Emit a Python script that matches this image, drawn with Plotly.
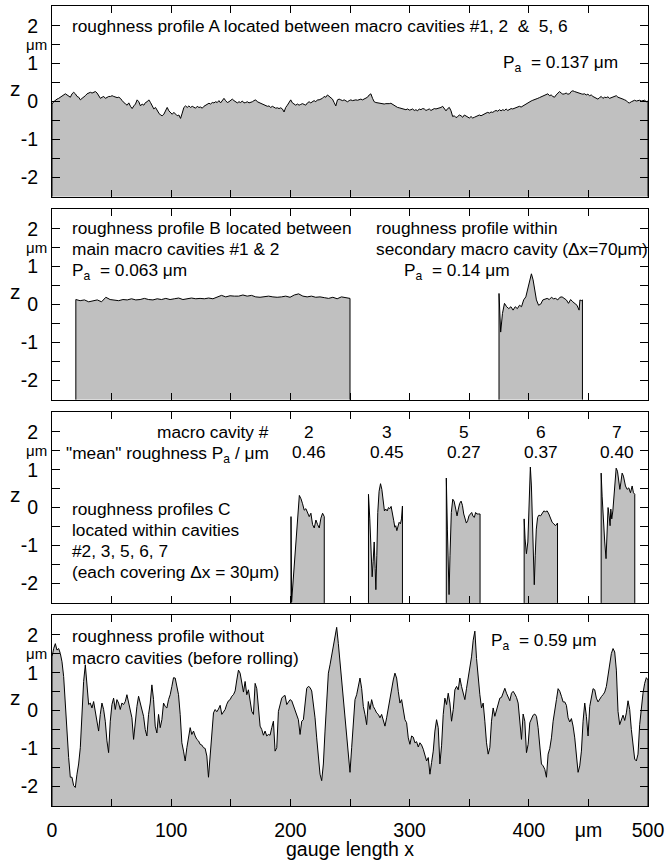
import plotly.graph_objects as go

# ---------------- data ----------------
# profile A (panel 1), uniformly sampled over 0..500 um, heights in um
PROFILE_A_Z = [
    -0.07, -0.01, 0.04, 0.06, 0.08, 0.11, 0.13, 0.15, 0.20, 0.17, 0.13, 0.11, 0.20, 0.24, 0.20, 0.13, 0.11, 0.04, 0.08, 0.11,
    0.15, 0.20, 0.22, 0.24, 0.22, 0.24, 0.26, 0.22, 0.13, 0.08, 0.11, 0.13, 0.08, 0.11, 0.13, 0.13, 0.15, 0.13, 0.11, 0.10,
    0.11, 0.08, 0.02, -0.03, -0.07, -0.10, -0.04, -0.13, -0.19, -0.12, -0.07, 0.04, -0.01, -0.12, -0.07, -0.10, -0.03, -0.01, 0.04, -0.03,
    -0.13, -0.20, -0.16, -0.25, -0.31, -0.36, -0.38, -0.34, -0.25, -0.16, -0.25, -0.31, -0.34, -0.29, -0.34, -0.38, -0.36, -0.45, -0.31, -0.16,
    -0.12, -0.16, -0.12, -0.16, -0.13, -0.15, -0.18, -0.13, -0.16, -0.15, -0.18, -0.13, -0.10, -0.07, -0.05, -0.07, -0.03, -0.04, -0.01, -0.03,
    0.02, -0.04, 0.02, 0.08, 0.02, -0.03, -0.01, 0.04, 0.06, 0.02, -0.01, -0.04, -0.01, -0.03, 0.01, -0.04, -0.03, -0.01, -0.04, -0.03,
    -0.01, 0.02, 0.04, -0.01, -0.03, -0.04, -0.07, -0.08, -0.10, -0.13, -0.12, -0.16, -0.13, -0.16, -0.18, -0.17, -0.19, -0.17, -0.20, -0.28,
    -0.16, -0.10, -0.03, 0.04, -0.04, -0.07, -0.10, -0.07, -0.10, -0.08, -0.06, -0.08, -0.10, -0.04, -0.01, -0.04, -0.01, 0.02, -0.01, 0.04,
    0.04, 0.06, 0.08, 0.13, 0.11, 0.17, 0.13, 0.11, 0.06, -0.03, -0.12, 0.04, 0.06, 0.04, 0.02, 0.04, 0.02, -0.01, 0.02, 0.04,
    0.02,
    0.04, 0.04, 0.03, 0.04, 0.06, 0.04, 0.06, 0.08, 0.11, 0.17, 0.20, 0.08, -0.01, -0.03, -0.04, -0.03, -0.04, -0.06, -0.07, -0.06,
    -0.07, -0.06, -0.05, -0.08, -0.12, -0.13, -0.16, -0.17, -0.18, -0.19, -0.20, -0.22, -0.20, -0.23, -0.22, -0.20, -0.24, -0.22, -0.25, -0.20,
    -0.22, -0.19, -0.20, -0.24, -0.22, -0.20, -0.24, -0.22, -0.19, -0.20, -0.19, -0.17, -0.16, -0.13, -0.20, -0.25, -0.19, -0.16, -0.25, -0.40,
    -0.38, -0.43, -0.40, -0.36, -0.38, -0.42, -0.36, -0.38, -0.42, -0.44, -0.40, -0.44, -0.42, -0.40, -0.38, -0.36, -0.38, -0.35, -0.34, -0.31,
    -0.29, -0.31, -0.28, -0.29, -0.26, -0.24, -0.26, -0.22, -0.25, -0.22, -0.24, -0.20, -0.24, -0.22, -0.19, -0.20, -0.18, -0.17, -0.16, -0.13,
    -0.15, -0.12, -0.10, -0.07, -0.04, -0.01, 0.01, 0.03, 0.04, 0.06, 0.08, 0.10, 0.12, 0.13, 0.15, 0.17, 0.20, 0.15, 0.17, 0.13,
    0.11, 0.17, 0.22, 0.26, 0.22, 0.19, 0.20, 0.22, 0.19, 0.20, 0.26, 0.28, 0.26, 0.24, 0.22, 0.22, 0.20, 0.19, 0.20, 0.17,
    0.19, 0.15, 0.17, 0.13, 0.11, 0.08, 0.06, 0.10, 0.13, 0.08, 0.11, 0.10, 0.12, 0.08, 0.10, 0.11, 0.13, 0.15, 0.11, 0.10,
    0.08, 0.06, 0.04, 0.02, -0.03, -0.04, -0.01, 0.02, 0.03, 0.01, 0.02, 0.03, 0.01, 0.02, 0.03, -0.01, 0.01,
]

# profile B (panel 2), uniformly sampled between its two ends
PROFILE_B_START = 20.0
PROFILE_B_END = 250.0
PROFILE_B_Z = [
    0.13, 0.10, 0.12, 0.07, 0.09, 0.12, 0.07, 0.19, 0.13, 0.12, 0.10, 0.13, 0.12, 0.15, 0.12, 0.13, 0.16, 0.13, 0.12, 0.15,
    0.13, 0.16, 0.13, 0.15, 0.17, 0.13, 0.15, 0.17, 0.15, 0.16, 0.15, 0.17, 0.15, 0.19, 0.24, 0.20, 0.23, 0.22, 0.22, 0.25,
    0.22, 0.24, 0.20, 0.19, 0.20, 0.22, 0.20, 0.19, 0.20, 0.22, 0.19, 0.25, 0.28, 0.22, 0.20, 0.22, 0.19, 0.20, 0.18, 0.16,
    0.19, 0.15, 0.20, 0.18, 0.16,
]

# profile within secondary macro cavity (panel 2)
SECONDARY_X = [375.0, 376.4, 377.9, 379.6, 381.4, 383.2, 385.0, 386.8, 388.6, 390.4, 392.2, 393.9, 395.7, 397.5, 399.3,
               401.1, 402.2, 403.6, 405.0, 406.4, 408.2, 410.0, 411.8, 413.6, 415.4, 417.2, 419.0, 420.7, 422.5, 424.3,
               426.1, 427.9, 429.7, 431.5, 433.3, 435.1, 436.9, 438.7, 440.4, 442.2, 442.9, 444.0, 445.0]
SECONDARY_Z = [0.29, -0.73, -0.24, 0.03, -0.06, -0.11, -0.06, -0.15, -0.06, -0.11, -0.02, -0.06, 0.12, 0.20, 0.43,
               0.74, 0.81, 0.65, 0.38, 0.12, -0.02, 0.01, 0.12, 0.13, 0.16, 0.13, 0.19, 0.15, 0.16, 0.12,
               0.19, 0.20, 0.16, 0.12, 0.03, 0.13, 0.07, 0.03, -0.02, -0.15, 0.12, 0.10, 0.12]

# profiles C within macro cavities #2, 3, 5, 6, 7 (panel 3)
CAVITY2_X = [200.5, 201.0, 207.5, 208.9, 210.2, 211.6, 213.0, 214.4, 215.8, 217.2, 218.6, 220.0, 221.4, 222.8, 224.2,
             225.6, 227.0, 228.4]
CAVITY2_Z = [-0.24, -2.50, 0.32, 0.23, 0.10, -0.07, -0.03, -0.15, -0.24, -0.15, -0.45, -0.54, -0.33, -0.45, -0.54,
             -0.28, -0.15, -0.24]
CAVITY3_X = [265.5, 266.6, 267.8, 268.6, 269.4, 270.3, 271.1, 271.7, 272.5, 273.3, 274.4, 275.6, 276.7, 277.8, 278.9,
             280.0, 281.2, 282.3, 283.4, 284.5, 285.6, 286.7, 287.6, 288.4, 289.3, 290.1, 291.2, 292.3, 293.2, 294.0]
CAVITY3_Z = [0.35, -0.30, -1.09, -1.83, -1.43, -0.91, -1.61, -2.17, -1.26, -0.13, 0.43, 0.63, 0.48, 0.13, -0.09,
             -0.04, -0.09, 0.00, -0.03, 0.03, -0.13, -0.35, -0.52, -0.48, -0.61, -0.48, -0.39, -0.43, -0.30, 0.04]
CAVITY5_X = [330.8, 331.7, 332.5, 333.1, 333.9, 335.0, 336.2, 337.3, 338.7, 339.8, 340.9, 342.0, 343.2, 344.3, 345.4,
             346.5, 347.6, 348.7, 349.8, 351.0, 352.1, 353.2, 354.3, 355.4, 356.5, 357.7, 359.1]
CAVITY5_Z = [0.78, -0.57, -1.61, -2.30, -1.26, -0.13, 0.22, 0.17, -0.04, -0.22, -0.04, 0.11, 0.17, 0.06, -0.17,
             -0.30, -0.41, -0.35, -0.22, -0.17, -0.13, -0.23, -0.26, -0.13, -0.17, -0.17, -0.17]
CAVITY6_X = [396.1, 396.9, 398.0, 399.2, 400.0, 400.8, 401.3, 402.2, 403.0, 403.8, 404.6, 405.4, 406.3, 407.4, 408.5,
             409.9, 411.3, 412.6, 414.0, 415.4, 416.8, 418.2, 419.6, 421.0, 422.4, 424.1]
CAVITY6_Z = [-0.30, -0.83, -1.22, -0.91, -0.13, 0.74, 1.07, 0.57, -0.39, -1.26, -2.04, -1.26, -0.57, -0.26, -0.20,
             -0.22, -0.13, -0.09, -0.11, -0.09, -0.17, -0.30, -0.39, -0.43, -0.48, -0.41]
CAVITY7_X = [460.7, 461.5, 462.6, 463.7, 464.8, 465.7, 466.5, 467.4, 468.2, 468.8, 469.6, 470.5, 471.3, 472.2, 473.3,
             474.4, 475.5, 476.4, 477.2, 478.3, 479.4, 480.3, 481.1, 482.5, 483.9, 485.3, 486.7, 487.8, 488.9]
CAVITY7_Z = [0.91, 0.30, -0.48, -0.91, -1.35, -0.65, 0.00, -0.22, -0.48, -0.04, -0.30, -0.09, 0.30, 0.74, 1.04,
             0.96, 0.74, 0.48, 0.65, 0.91, 0.83, 0.65, 0.57, 0.48, 0.52, 0.39, 0.57, 0.39, 0.35]

CAVITY_NUMBERS = ["2", "3", "5", "6", "7"]
CAVITY_PA = ["0.46", "0.45", "0.27", "0.37", "0.40"]
CAVITY_LABEL_X = [216.0, 281.0, 345.5, 410.5, 474.0]

# profile without macro cavities, before rolling (panel 4), uniformly sampled over 0..500 um
PROFILE_D_Z = [
    1.42, 1.64, 1.77, 1.60, 1.64, 1.51, 1.29, 0.90, 0.16, -0.63,
    -1.24, -1.76, -1.76, -1.98, -2.03, -1.68, -1.41, -0.98, -0.10, 0.77,
    1.21, 0.77, 0.16, 0.20, 0.07, 0.24, -0.02, -0.28, -0.54, -0.10,
    0.20, 0.03, -0.28, -0.80, -1.11, -0.28, 0.16, 0.33, 0.03, 0.29,
    0.20, 0.03, 0.20, 0.16, 0.24, 0.42, 0.20, 0.03, -0.19, -0.76,
    -0.28, 0.11, 0.38, 0.20, -0.02, -0.15, -0.50, -0.67, -0.10, 0.20,
    0.68, 0.29, -0.41, -0.59, -0.10, -0.45, -0.24, 0.20, 0.11, 0.07,
    0.29, 0.42, 0.64, 0.87, 0.86, 0.68, 0.42, -0.10, -0.85, -1.07,
    -1.33, -0.98, -0.72, -0.45, -0.63, -0.54, -0.67, -0.76, -0.80, -0.89,
    -0.91, -0.98, -1.00, -1.20, -1.76, -1.15, -0.54, -0.06, 0.03, -0.03,
    0.04, 0.14, -0.10, -0.02, 0.03, 0.17, 0.26, 0.29, 0.38, 0.42,
    0.52, 0.81, 1.07, 0.99, 0.77, 0.49, 0.77, 0.42, 0.55, 0.23,
    -0.02, -0.10, 0.72, 0.58, 0.07, -0.41, -0.50, -0.65, -0.54, -0.67,
    -0.63, -0.65, -0.45, -0.28, -1.07, -0.98,
    -0.02, 0.20, 0.33, 0.38, 0.40, 0.16, 0.23, 0.29, 0.26, 0.14,
    0.03, -0.10, -0.24, -0.63, -0.28, -0.24, 0.24, 0.59, 0.64, 0.61,
    0.52, 0.20, -0.19, -0.72, -1.33, -1.68, -1.85, -1.41, -0.54, 0.42,
    0.99, 1.21, 1.47, 1.69, 2.03, 2.20, 1.77, 1.29, 0.81, 0.38,
    -0.10, -0.54, -0.98, -1.63, -0.98, -0.19, 0.29, 0.42, 0.64, 0.86,
    0.59, 0.11, -0.10, -0.37, 0.24, 0.03, 0.29, 0.11, 0.03, -0.06,
    -0.10, -0.19, -0.10, -0.24, -0.41, -0.19, 0.07, 0.29, 0.55, 0.81,
    0.99, 0.86, 0.51, 0.20, 0.29, -0.02, -0.24, -0.32, -0.72, -0.89,
    -0.67, -0.70, -0.85, -0.82, -0.96, -0.85, -0.91, -1.02, -1.20, -1.33,
    -1.24, -1.68, -1.37, -1.07, -0.54, -0.24, -0.45, -1.41, -0.93, -0.10,
    0.33, 0.16, 0.46, 0.20, -0.28, 0.03, 0.55, 0.64, 0.55, 0.86,
    0.64, 0.44, 0.29, 0.59, 0.86, 1.12, 1.42, 1.86, 2.10, 1.38,
    0.77, 0.42, 0.07, 0.20, -0.28, -0.85, -1.15, -0.98, -0.28, 0.07,
    -0.15, 0.03, 0.20, 0.33, 0.35, 0.46, 0.59, 0.46, 0.35, 0.26,
    0.46, 0.51, 0.44, 0.35, 0.20, -0.37, -0.76, -0.09, -0.28, -1.11,
    -0.89, -0.32, -0.21, -0.12, -0.09, -0.15, -0.45, -0.98, -1.41, -1.46,
    -1.55, -1.76, -1.15, -1.00, -0.72, -0.28, 0.07, 0.29, 0.58, 0.51,
    0.38, 0.23, 0.23, 0.14, -0.19, -0.30, -0.21, -0.41, -0.72, -1.24,
    -1.63, -1.46, -1.07, -0.28, 0.20, -0.15, -0.67, 0.11, 0.38, 0.58,
    0.55, 0.33, 0.23, 0.31, 0.37, 0.42, 0.49, 0.64, 0.94, 1.25,
    1.51, 1.64, 1.55, 1.07, -0.02, -0.37, -0.21, -0.12, -0.26, -0.06,
    0.26, 0.03, -0.50, -0.93, -1.28, -1.33, -1.15, -0.37, 0.16, 0.46,
    0.72, 0.87, 0.81,
]

X_MAX = 500.0
Y_TICK_VALS = [-2, -1, 0, 1, 2]
Y_TICK_TEXT = ["-2", "-1", "0", "1", "2"]
Y_MINOR_STEP = 0.5
X_TICK_VALS = [0, 100, 200, 300, 400, 450, 500]
X_TICK_TEXT = ["0", "100", "200", "300", "400", "μm", "500"]
X_MINOR_STEP = 50

# ---------------- layout constants ----------------
W, H = 669, 863
ML, MR, MT, MB = 52, 19, 5, 57
PANEL_H = 191.0
GAP = (H - MT - MB - 4 * PANEL_H) / 3.0
PLOT_H = H - MT - MB
YMIN, YMAX = -2.52, 2.52
FONT = "Liberation Sans, Arial, Helvetica, sans-serif"
FILL = "#c0c0c0"
TXT = 17.3


def domain(i):  # i = 0 for the top panel
    top = 1.0 - i * (PANEL_H + GAP) / PLOT_H
    return [max(0.0, top - PANEL_H / PLOT_H), top]


def uniform_x(n, start, end):
    step = (end - start) / (n - 1)
    return [start + k * step for k in range(n)]


def profile_trace(xs, zs, panel):
    px = [xs[0]] + list(xs) + [xs[-1]]
    pz = [YMIN] + list(zs) + [YMIN]
    sfx = "" if panel == 1 else str(panel)
    return go.Scatter(x=px, y=pz, mode="lines", fill="toself", fillcolor=FILL,
                      line=dict(color="black", width=1), xaxis="x" + sfx, yaxis="y" + sfx,
                      showlegend=False, hoverinfo="skip")


fig = go.Figure()
fig.add_trace(profile_trace(uniform_x(len(PROFILE_A_Z), 0.0, X_MAX), PROFILE_A_Z, 1))
fig.add_trace(profile_trace(uniform_x(len(PROFILE_B_Z), PROFILE_B_START, PROFILE_B_END), PROFILE_B_Z, 2))
fig.add_trace(profile_trace(SECONDARY_X, SECONDARY_Z, 2))
for cx, cz in [(CAVITY2_X, CAVITY2_Z), (CAVITY3_X, CAVITY3_Z), (CAVITY5_X, CAVITY5_Z),
               (CAVITY6_X, CAVITY6_Z), (CAVITY7_X, CAVITY7_Z)]:
    fig.add_trace(profile_trace(cx, cz, 3))
fig.add_trace(profile_trace(uniform_x(len(PROFILE_D_Z), 0.0, X_MAX), PROFILE_D_Z, 4))

layout = dict(width=W, height=H, margin=dict(l=ML, r=MR, t=MT, b=MB),
              plot_bgcolor="white", paper_bgcolor="white",
              font=dict(family=FONT, color="black", size=TXT), showlegend=False)

for p in range(1, 5):
    sfx = "" if p == 1 else str(p)
    layout["xaxis" + sfx] = dict(
        domain=[0, 1], range=[0, X_MAX], anchor="y" + sfx,
        tickvals=X_TICK_VALS, ticktext=X_TICK_TEXT, showticklabels=(p == 4),
        ticks="inside", ticklen=7, tickwidth=1, tickcolor="black",
        minor=dict(dtick=X_MINOR_STEP, tick0=0, ticks="inside", ticklen=7, tickwidth=1,
                   tickcolor="black", showgrid=False),
        mirror="allticks", showline=True, linecolor="black", linewidth=1,
        showgrid=False, zeroline=False, ticklabelstandoff=7,
        tickfont=dict(size=19.5, family=FONT, color="black"))
    layout["yaxis" + sfx] = dict(
        domain=domain(p - 1), range=[YMIN, YMAX], anchor="x" + sfx,
        tickvals=Y_TICK_VALS, ticktext=Y_TICK_TEXT,
        ticks="inside", ticklen=8, tickwidth=1, tickcolor="black",
        minor=dict(dtick=Y_MINOR_STEP, tick0=0, ticks="inside", ticklen=8, tickwidth=1,
                   tickcolor="black", showgrid=False),
        mirror="allticks", showline=True, linecolor="black", linewidth=1,
        showgrid=False, zeroline=False, ticklabelstandoff=9,
        tickfont=dict(size=19.5, family=FONT, color="black"))

annotations = []


def note(text, x, y, panel, anchor="left", size=TXT):
    sfx = "" if panel == 1 else str(panel)
    annotations.append(dict(text=text, x=x, y=y, xref="x" + sfx, yref="y" + sfx,
                            xanchor=anchor, yanchor="middle", showarrow=False,
                            font=dict(size=size, family=FONT, color="black")))


PA = "P<sub>a</sub>\u00a0 = "
note("roughness profile A located between macro cavities #1, 2\u00a0 &amp;\u00a0 5, 6", 15, 2.0, 1)
note(PA + "0.137 μm", 377, 1.0, 1)

note("roughness profile B located between", 15, 2.02, 2)
note("main macro cavities #1 &amp; 2", 15, 1.46, 2)
note(PA + "0.063 μm", 15, 0.88, 2)
note("roughness profile within", 270.5, 2.02, 2)
note("secondary macro cavity (Δx=70μm)", 270.5, 1.46, 2)
note(PA + "0.14 μm", 294, 0.88, 2)

note("macro cavity #", 184, 2.0, 3, anchor="right")
note("\"mean\" roughness P<sub>a</sub> / μm", 184, 1.40, 3, anchor="right")
for lx, num, pa in zip(CAVITY_LABEL_X, CAVITY_NUMBERS, CAVITY_PA):
    note(num, lx, 2.0, 3, anchor="center")
    note(pa, lx, 1.46, 3, anchor="center")
note("roughness profiles C", 15, -0.05, 3)
note("located within cavities", 15, -0.60, 3)
note("#2, 3, 5, 6, 7", 15, -1.15, 3)
note("(each covering Δx = 30μm)", 15, -1.71, 3)

note("roughness profile without", 15, 1.97, 4)
note("macro cavities (before rolling)", 15, 1.40, 4)
note(PA + "0.59 μm", 367, 1.82, 4)

# y-axis unit and name beside every panel
for p in range(1, 5):
    sfx = "" if p == 1 else str(p)
    annotations.append(dict(text="μm", x=0, xref="paper", xanchor="center", xshift=-16,
                            y=1.5, yref="y" + sfx, yanchor="middle", showarrow=False,
                            font=dict(size=15, family=FONT, color="black")))
    annotations.append(dict(text="z", x=0, xref="paper", xanchor="center", xshift=-37,
                            y=0.35, yref="y" + sfx, yanchor="middle", showarrow=False,
                            font=dict(size=21, family=FONT, color="black")))

annotations.append(dict(text="gauge length x", x=0.5, xref="paper", xanchor="center",
                        y=0, yref="paper", yanchor="top", yshift=-30, showarrow=False,
                        font=dict(size=19.5, family=FONT, color="black")))

layout["annotations"] = annotations
fig.update_layout(**layout)
fig.write_html("out.html")
